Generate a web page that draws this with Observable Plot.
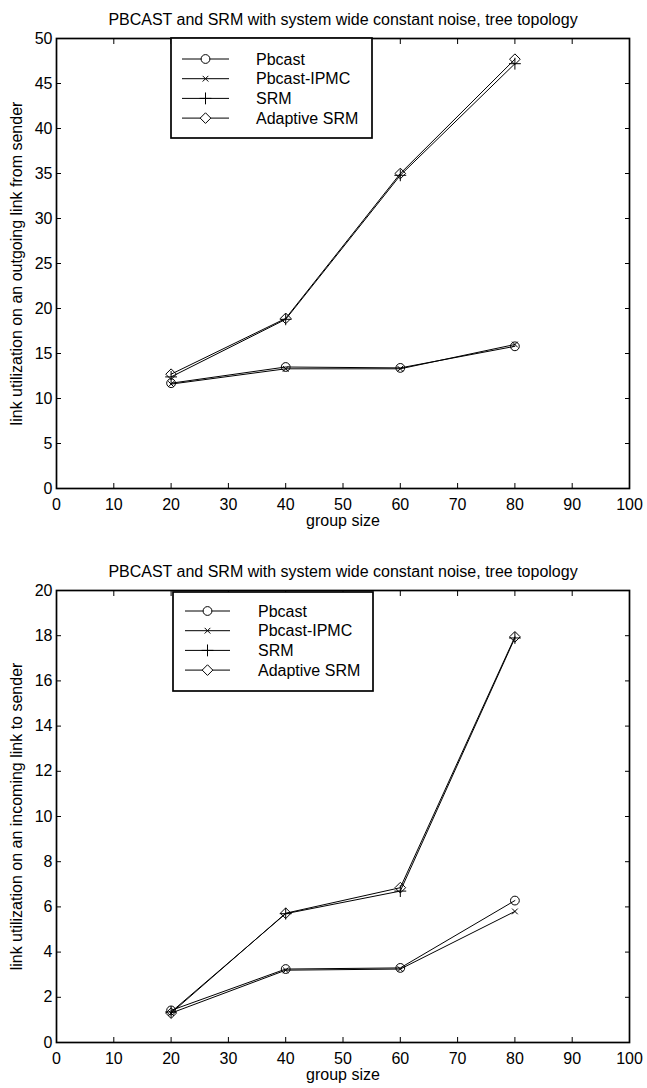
<!DOCTYPE html>
<html><head><meta charset="utf-8">
<script src="https://cdn.jsdelivr.net/npm/d3@7"></script>
<script src="https://cdn.jsdelivr.net/npm/@observablehq/plot@0.6"></script>
<style>
body{margin:0;background:#fff;font-family:"Liberation Sans",Arial,sans-serif;}
#wrap{position:relative;width:647px;height:1088px;background:#fff;}
#wrap svg{display:block;}
</style></head><body><div id="wrap"></div>
<script>
// ---- data ----
const groupSizes = [20, 40, 60, 80];
const seriesNames = ["Pbcast", "Pbcast-IPMC", "SRM", "Adaptive SRM"];
const seriesSymbols = ["circle", "times", "plus", "diamond2"];
// top panel: link utilization on an outgoing link from sender
const outPbcast   = [11.7, 13.5, 13.4, 15.8];
const outIPMC     = [11.6, 13.3, 13.3, 16.0];
const outSRM      = [12.4, 18.8, 34.8, 47.2];
const outAdaptive = [12.7, 18.9, 35.0, 47.7];
// bottom panel: link utilization on an incoming link to sender
const inPbcast   = [1.42, 3.25, 3.30, 6.28];
const inIPMC     = [1.30, 3.20, 3.25, 5.80];
const inSRM      = [1.35, 5.70, 6.70, 17.90];
const inAdaptive = [1.30, 5.72, 6.85, 17.95];
const xTicks = [0, 10, 20, 30, 40, 50, 60, 70, 80, 90, 100];
const yTicksTop = [0, 5, 10, 15, 20, 25, 30, 35, 40, 45, 50];
const yTicksBottom = [0, 2, 4, 6, 8, 10, 12, 14, 16, 18, 20];
const titleText = "PBCAST and SRM with system wide constant noise, tree topology";
const xLabel = "group size";
const yLabelTop = "link utilization on an outgoing link from sender";
const yLabelBottom = "link utilization on an incoming link to sender";

const FONT = "'Liberation Sans', Arial, sans-serif";
const symbolR = {circle: 4.4, times: 2.7, plus: 3.9, diamond2: 4.8};
const d3Sym = {circle: d3.symbolCircle, times: d3.symbolTimes, plus: d3.symbolPlus, diamond2: d3.symbolDiamond2};

function makeRows(arrays) {
  const rows = [];
  arrays.forEach((vals, i) => vals.forEach((v, j) => rows.push({series: seriesNames[i], x: groupSizes[j], y: v})));
  return rows;
}

function panel({rows, yDomain, yTicks, yLabel, height, marginTop, marginBottom, legend}) {
  const marks = [];
  seriesNames.forEach((s, i) => {
    const d = rows.filter(r => r.series === s);
    marks.push(Plot.line(d, {x: "x", y: "y", stroke: "black", strokeWidth: 1}));
  });
  seriesNames.forEach((s, i) => {
    const d = rows.filter(r => r.series === s);
    marks.push(Plot.dot(d, {x: "x", y: "y", symbol: seriesSymbols[i], r: symbolR[seriesSymbols[i]], stroke: "black", fill: "none", strokeWidth: 1}));
  });
  marks.push(
    Plot.axisX({anchor: "bottom", ticks: xTicks, tickSize: -5, tickPadding: 15, label: null, fontSize: 16}),
    Plot.axisX({anchor: "top", ticks: xTicks, tickSize: -5, tickFormat: () => "", label: null}),
    Plot.axisY({anchor: "left", ticks: yTicks, tickSize: -5, tickPadding: 9, label: null, fontSize: 16}),
    Plot.axisY({anchor: "right", ticks: yTicks, tickSize: -5, tickFormat: () => "", label: null}),
    Plot.frame({stroke: "black", strokeWidth: 1.7}),
    Plot.text([titleText], {text: d => d, frameAnchor: "top", textAnchor: "middle", dy: -19, fontSize: 16, lineAnchor: "middle"}),
    Plot.text([xLabel], {text: d => d, frameAnchor: "bottom", textAnchor: "middle", dy: 32, fontSize: 16, lineAnchor: "middle"}),
    Plot.text([yLabel], {text: d => d, frameAnchor: "left", textAnchor: "middle", dx: -40, rotate: -90, fontSize: 16, lineAnchor: "middle"})
  );
  const svg = Plot.plot({
    width: 647, height, marginTop, marginBottom, marginLeft: 56, marginRight: 18,
    x: {domain: [0, 100], label: null},
    y: {domain: yDomain, label: null},
    style: {fontFamily: FONT, fontSize: "16px", color: "black", background: "white", overflow: "visible"},
    marks
  });
  // legend box
  const g = d3.select(svg).append("g").attr("font-family", FONT).attr("font-size", 16).attr("text-anchor", "start");
  g.append("rect").attr("x", legend.x0).attr("y", legend.y0).attr("width", legend.x1 - legend.x0).attr("height", legend.y1 - legend.y0)
    .attr("fill", "white").attr("stroke", "black").attr("stroke-width", 1.7);
  seriesNames.forEach((s, i) => {
    const y = legend.firstY + i * legend.step;
    g.append("line").attr("x1", legend.lx0).attr("x2", legend.lx1).attr("y1", y).attr("y2", y).attr("stroke", "black").attr("stroke-width", 1);
    const sym = seriesSymbols[i];
    const rr = symbolR[sym];
    g.append("path").attr("d", d3.symbol(d3Sym[sym], Math.PI * rr * rr)())
      .attr("transform", `translate(${(legend.lx0 + legend.lx1) / 2},${y})`)
      .attr("fill", sym === "circle" || sym === "diamond2" ? "white" : "none").attr("stroke", "black").attr("stroke-width", 1);
    g.append("text").attr("x", legend.tx).attr("y", y).attr("dy", "0.35em").attr("text-anchor", "start").text(s);
  });
  return svg;
}

const wrap = document.getElementById("wrap");
wrap.appendChild(panel({
  rows: makeRows([outPbcast, outIPMC, outSRM, outAdaptive]),
  yDomain: [0, 50], yTicks: yTicksTop, yLabel: yLabelTop,
  height: 540, marginTop: 38, marginBottom: 52,
  legend: {x0: 171, x1: 372, y0: 38, y1: 138, firstY: 59, step: 19.7, lx0: 182, lx1: 229, tx: 256}
}));
wrap.appendChild(panel({
  rows: makeRows([inPbcast, inIPMC, inSRM, inAdaptive]),
  yDomain: [0, 20], yTicks: yTicksBottom, yLabel: yLabelBottom,
  height: 548, marginTop: 50, marginBottom: 46,
  legend: {x0: 173, x1: 373, y0: 52, y1: 151, firstY: 71, step: 19.7, lx0: 185, lx1: 230, tx: 258}
}));
</script></body></html>
